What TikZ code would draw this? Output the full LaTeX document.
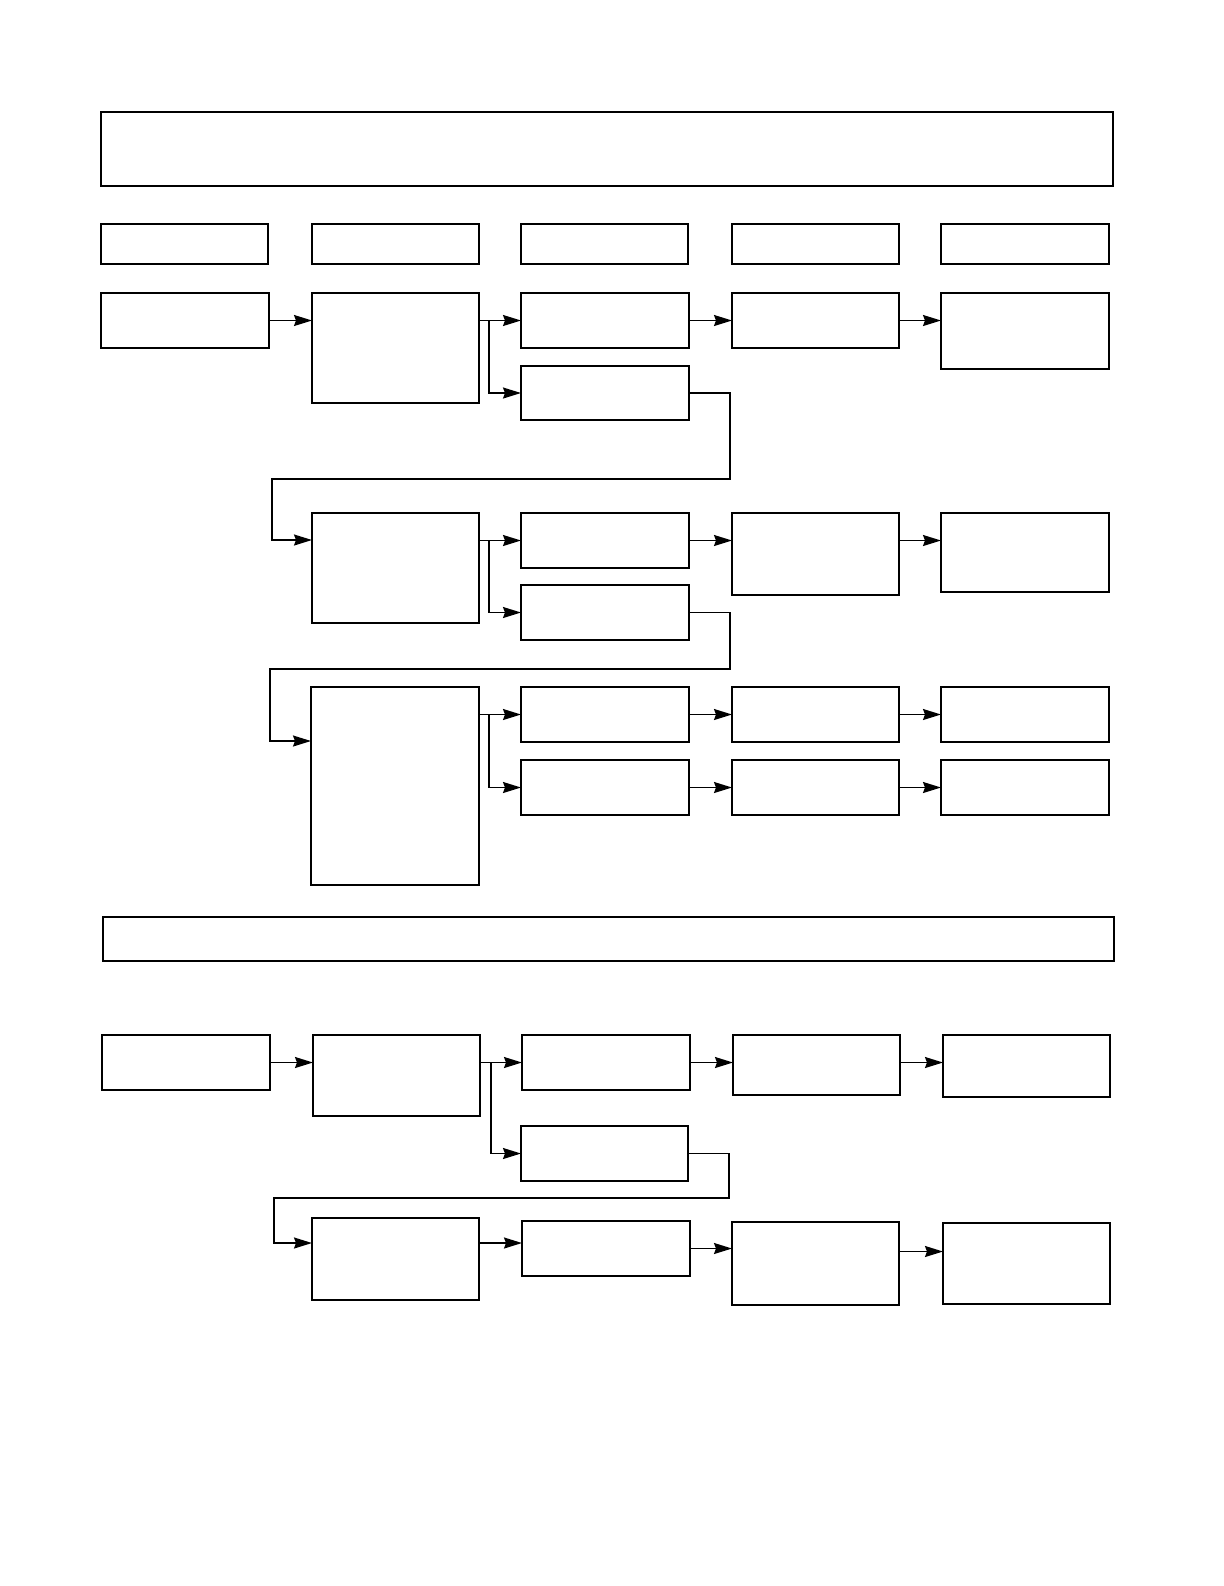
\documentclass[tikz,border=0pt]{standalone}
\usepackage{tikz}
\usetikzlibrary{arrows.meta, positioning, calc}

\begin{document}
\begin{tikzpicture}[
    x=0.5pt, y=-0.5pt,
    blk/.style={rectangle, draw, line width=0.8pt, anchor=north west, inner sep=0pt, outer sep=0pt},
    boxsize/.style 2 args={minimum width=#1*0.5pt, minimum height=#2*0.5pt},
    arr/.style={line width=0.8pt, -{Stealth[length=9pt, width=5.5pt, inset=1pt]}}
]
    \useasboundingbox (0,0) rectangle (1224,1586);

    % Title bar and column heads
    \node[blk, boxsize={1012}{74}] (title) at (101,112) {};
    \node[blk, boxsize={167}{40}] (h1) at (101,224) {};
    \node[blk, boxsize={167}{40}] (h2) at (312,224) {};
    \node[blk, boxsize={167}{40}] (h3) at (521,224) {};
    \node[blk, boxsize={167}{40}] (h4) at (732,224) {};
    \node[blk, boxsize={168}{40}] (h5) at (941,224) {};

    % First row
    \node[blk, boxsize={168}{55}] (a1) at (101,293) {};
    \node[blk, boxsize={167}{110}] (b1) at (312,293) {};
    \node[blk, boxsize={168}{55}] (c1) at (521,293) {};
    \node[blk, boxsize={168}{54}] (c1b) at (521,366) {};
    \node[blk, boxsize={167}{55}] (d1) at (732,293) {};
    \node[blk, boxsize={168}{76}] (e1) at (941,293) {};

    \draw[arr] (a1) -- (a1 -| b1.west);
    \draw[arr] (c1 -| b1.east) -- (c1.west);
    \draw[arr] ($(c1 -| b1.east)+(10,0)$) |- (c1b.west);
    \draw[arr] (c1) -- (d1.west);
    \draw[arr] (d1.east) -- (d1 -| e1.west);

    % Second row
    \node[blk, boxsize={167}{110}] (b2) at (312,513) {};
    \node[blk, boxsize={168}{55}] (c2) at (521,513) {};
    \node[blk, boxsize={168}{55}] (c2b) at (521,585) {};
    \node[blk, boxsize={167}{82}] (d2) at (732,513) {};
    \node[blk, boxsize={168}{79}] (e2) at (941,513) {};

    \coordinate (j1) at (730,479);
    \coordinate (k1) at (272,540);
    \draw[arr] (c1b.east) -| (j1) -| (k1) -- (k1 -| b2.west);
    \draw[arr] (c2 -| b2.east) -- (c2.west);
    \draw[arr] ($(c2 -| b2.east)+(10,0)$) |- (c2b.west);
    \draw[arr] (c2) -- (c2 -| d2.west);
    \draw[arr] (d2.east |- c2) -- (c2 -| e2.west);

    % Third row
    \node[blk, boxsize={168}{198}] (b3) at (311,687) {};
    \node[blk, boxsize={168}{55}] (c3) at (521,687) {};
    \node[blk, boxsize={168}{55}] (c3b) at (521,760) {};
    \node[blk, boxsize={167}{55}] (d3) at (732,687) {};
    \node[blk, boxsize={167}{55}] (d3b) at (732,760) {};
    \node[blk, boxsize={168}{55}] (e3) at (941,687) {};
    \node[blk, boxsize={168}{55}] (e3b) at (941,760) {};

    \coordinate (j2) at (730,669);
    \coordinate (k2) at (270,741);
    \draw[arr] (c2b.east) -| (j2) -| (k2) -- (k2 -| b3.west);
    \draw[arr] (c3 -| b3.east) -- (c3.west);
    \draw[arr] ($(c3 -| b3.east)+(10,0)$) |- (c3b.west);
    \draw[arr] (c3) -- (d3);
    \draw[arr] (d3) -- (e3);
    \draw[arr] (c3b) -- (d3b);
    \draw[arr] (d3b) -- (e3b);

    % Middle bar
    \node[blk, boxsize={1011}{44}] (mid) at (103,917) {};

    % Fourth row
    \node[blk, boxsize={168}{55}] (a4) at (102,1035) {};
    \node[blk, boxsize={167}{81}] (b4) at (313,1035) {};
    \node[blk, boxsize={168}{55}] (c4) at (522,1035) {};
    \node[blk, boxsize={167}{55}] (c4b) at (521,1126) {};
    \node[blk, boxsize={167}{60}] (d4) at (733,1035) {};
    \node[blk, boxsize={167}{62}] (e4) at (943,1035) {};

    \draw[arr] (a4) -- (a4 -| b4.west);
    \draw[arr] (c4 -| b4.east) -- (c4.west);
    \draw[arr] ($(c4 -| b4.east)+(11,0)$) |- (c4b.west);
    \draw[arr] (c4) -- (c4 -| d4.west);
    \draw[arr] (d4.east |- c4) -- (c4 -| e4.west);

    % Fifth row
    \node[blk, boxsize={167}{82}] (b5) at (312,1218) {};
    \node[blk, boxsize={168}{55}] (c5) at (522,1221) {};
    \node[blk, boxsize={167}{83}] (d5) at (732,1222) {};
    \node[blk, boxsize={167}{81}] (e5) at (943,1223) {};

    \coordinate (j3) at (729,1198);
    \coordinate (k3) at (274,1243);
    \draw[arr] (c4b.east) -| (j3) -| (k3) -- (k3 -| b5.west);
    \draw[arr] (b5.east |- k3) -- (k3 -| c5.west);
    \draw[arr] (c5) -- (c5 -| d5.west);
    \draw[arr] ($(d5.east |- c5)+(0,3)$) -- ($(c5 -| e5.west)+(0,3)$);
\end{tikzpicture}
\end{document}
